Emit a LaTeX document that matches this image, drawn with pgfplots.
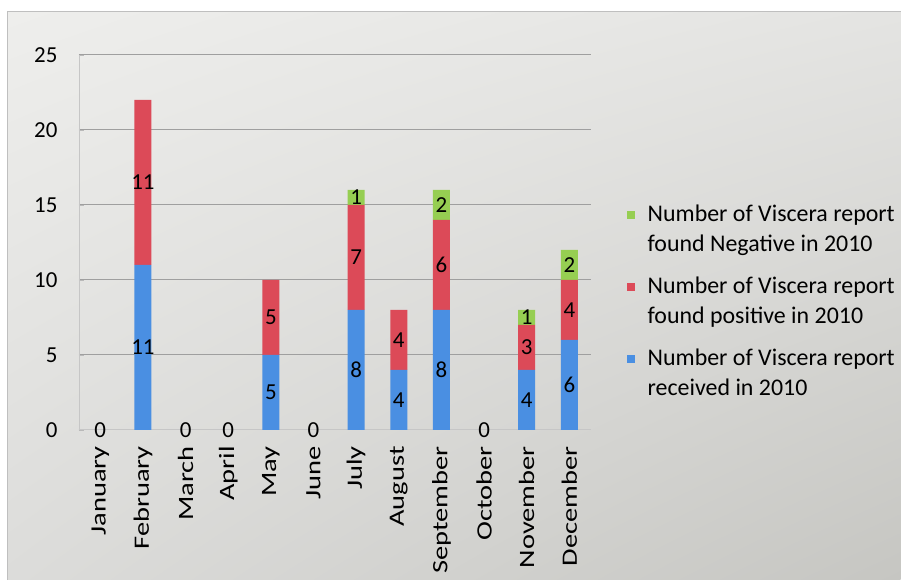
\documentclass[border=0pt]{standalone}
\usepackage{pgfplots}
\pgfplotsset{compat=1.18}
\usepackage{pgfplotstable}
\usetikzlibrary{shadings}
\usepackage{fontspec}
\setmainfont{Carlito}
\definecolor{cblue}{RGB}{74,143,226}
\definecolor{cred}{RGB}{220,74,88}
\definecolor{cgreen}{RGB}{150,206,82}
\definecolor{bgTL}{RGB}{238,238,236}
\definecolor{bgTR}{RGB}{228,228,226}
\definecolor{bgBL}{RGB}{220,220,218}
\definecolor{bgBR}{RGB}{198,198,194}

\pgfplotstableread{
x rec pos neg
0 0 0 0
1 11 11 0
2 0 0 0
3 0 0 0
4 5 5 0
5 0 0 0
6 8 7 1
7 4 4 0
8 8 6 2
9 0 0 0
10 4 3 1
11 6 4 2
}\datatable

\pgfplotstableread{
x y l
0 0 0
1 5.5 11
1 16.5 11
2 0 0
3 0 0
4 2.5 5
4 7.5 5
5 0 0
6 4 8
6 11.5 7
6 15.5 1
7 2 4
7 6 4
8 4 8
8 11 6
8 15 2
9 0 0
10 2 4
10 5.5 3
10 7.5 1
11 3 6
11 8 4
11 11 2
}\labtable

\begin{document}
\begin{tikzpicture}[x=1bp,y=1bp]
\fill[white] (0,0) rectangle (901,580);
\shade[upper left=bgTL, upper right=bgTR, lower left=bgBL, lower right=bgBR] (8,0) rectangle (901,568);
\draw[gray!50, line width=1pt] (8,0) -- (8,568) -- (901,568);
\pgfplotsset{
  myaxis/.style={
    at={(79bp,150bp)}, anchor=south west,
    scale only axis, width=512bp, height=375bp,
    xmin=-0.5, xmax=11.5, ymin=0, ymax=25,
  }
}
\begin{axis}[myaxis,
  ybar stacked, bar width=17bp,
  ytick={0,5,...,25},
  xtick={0,...,11},
  minor xtick={-0.5,0.5,...,11.5},
  xticklabels={January,February,March,April,May,June,July,August,September,October,November,December},
  xticklabel style={rotate=90, anchor=east, font=\fontsize{22}{24}\selectfont, xscale=1.3},
  xticklabel shift={12bp},
  xtick style={draw=none},
  minor tick style={gray!55},
  minor tick length=6bp,
  yticklabel style={font=\fontsize{23}{26}\selectfont},
  yticklabel shift={18bp},
  /pgf/number format/assume math mode=true,
  ymajorgrids, grid style={gray!75, line width=1pt},
  axis x line*=bottom, axis y line*=left,
  axis line style={gray!45, line width=0.8pt},
  major tick length=5bp,
  tick style={gray!55},
  legend style={at={(1.07,0.605)}, anchor=north west, draw=none, fill=none,
    font=\fontsize{24}{30}\selectfont, cells={anchor=west, align=left},
    row sep=20bp, inner sep=0pt},
  legend cell align=left,
  reverse legend,
  legend image code/.code={\fill[#1, draw=none] (0bp,10bp) rectangle (8bp,18bp); \path (19bp,14bp);},
]
\addplot[fill=cblue, draw=none] table[x=x, y=rec] {\datatable};
\addplot[fill=cred, draw=none] table[x=x, y=pos] {\datatable};
\addplot[fill=cgreen, draw=none] table[x=x, y=neg] {\datatable};
\legend{{Number of Viscera report\\received in 2010},{Number of Viscera report\\found positive in 2010},{Number of Viscera report\\found Negative in 2010}}
\end{axis}
\begin{axis}[myaxis, hide axis, clip=false]
\addplot[only marks, mark=none, draw=none,
  nodes near coords, point meta=explicit symbolic,
  every node near coord/.style={anchor=center, text=black, font=\fontsize{23}{26}\selectfont}]
  table[x=x, y=y, meta=l] {\labtable};
\end{axis}
\end{tikzpicture}
\end{document}
